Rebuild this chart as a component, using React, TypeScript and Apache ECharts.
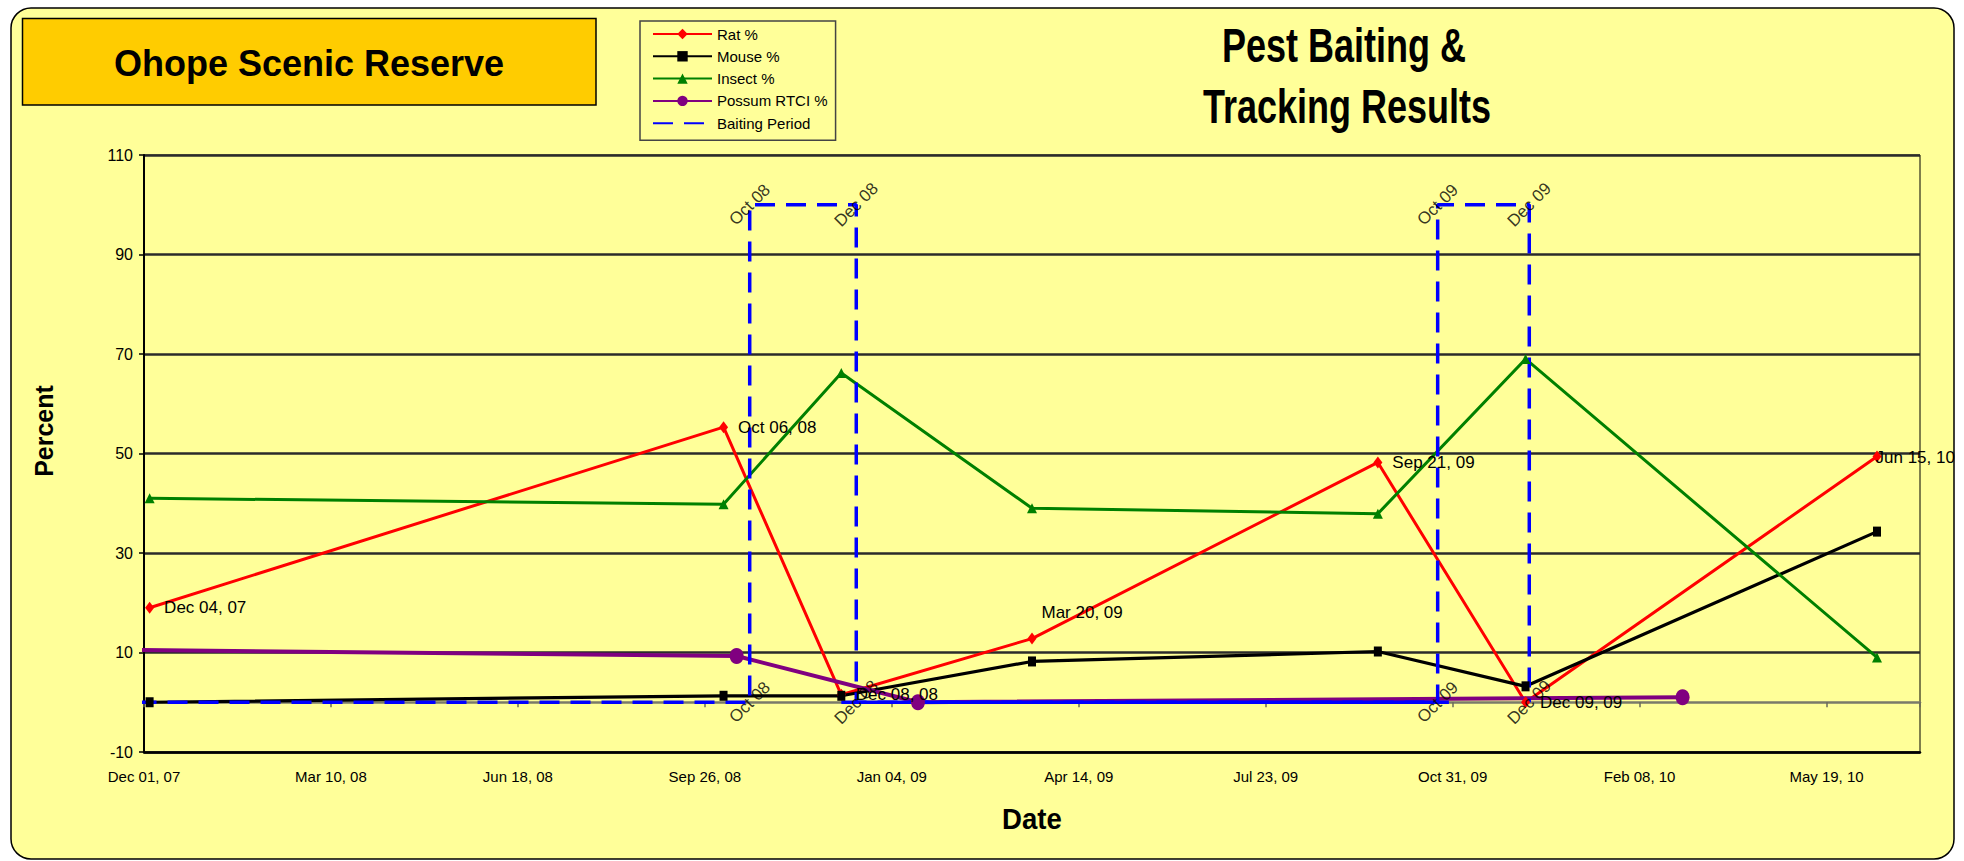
import React, { useEffect, useRef } from 'react';
import * as echarts from 'echarts';

// ---------- data ----------
const AXIS_START = '2007-12-01';
const AXIS_SPAN_DAYS = 950;
const X_TICK_DAYS = 100;
const Y_MIN = -10;
const Y_MAX = 110;
const Y_STEP = 20;

const sampleDates = ['2007-12-04', '2008-10-06', '2008-12-08', '2009-03-20', '2009-09-21', '2009-12-09', '2010-06-15'];
const ratPct = [19, 55.3, 1.5, 12.8, 48.2, 0, 49.4];
const mousePct = [0, 1.3, 1.3, 8.2, 10.2, 3.2, 34.3];
const insectPct = [41, 39.8, 66.2, 39, 37.9, 69, 9];

const possumDates = ['2007-11-27', '2008-10-13', '2009-01-18', '2010-03-03'];
const possumRtci = [10.5, 9.3, 0, 1];

const baitDates = ['2007-11-27', '2008-10-20', '2008-10-20', '2008-12-16', '2008-12-16', '2009-10-23', '2009-10-23', '2009-12-11', '2009-12-11'];
const baitLevel = [0, 0, 100, 100, 0, 0, 100, 100, 0];

const baitBaseDates = ['2008-12-08', '2009-10-29'];
const baitBaseLevel = [0, 0];

const legendNames = ['Rat %', 'Mouse %', 'Insect %', 'Possum RTCI %', 'Baiting Period'];

// ---------- helpers ----------
const MONTHS = ['Jan', 'Feb', 'Mar', 'Apr', 'May', 'Jun', 'Jul', 'Aug', 'Sep', 'Oct', 'Nov', 'Dec'];
const DAY_MS = 86400000;
const startMs = Date.parse(AXIS_START + 'T00:00:00Z');
const toDay = (s: string) => Math.round((Date.parse(s + 'T00:00:00Z') - startMs) / DAY_MS);
const pad = (n: number) => (n < 10 ? '0' + n : '' + n);
const dayToDate = (d: number) => new Date(startMs + d * DAY_MS);
const fmtFull = (dt: Date) => `${MONTHS[dt.getUTCMonth()]} ${pad(dt.getUTCDate())}, ${pad(dt.getUTCFullYear() % 100)}`;
const fmtMonth = (dt: Date) => `${MONTHS[dt.getUTCMonth()]} ${pad(dt.getUTCFullYear() % 100)}`;
const parseDate = (s: string) => new Date(Date.parse(s + 'T00:00:00Z'));

const FONT = '"Liberation Sans", Arial, Helvetica, sans-serif';

function titleText(text: string, x: number, y: number, size: number, extra: any = {}) {
  return {
    type: 'text',
    z: 11,
    silent: true,
    x,
    y,
    ...extra,
    style: {
      text,
      fill: '#000',
      fontSize: size,
      fontWeight: 'bold',
      fontFamily: FONT,
      align: 'center',
      verticalAlign: 'middle',
      textAlign: 'center',
      textVerticalAlign: 'middle',
    },
  };
}

function buildOption(): any {
  const ratOffsets = (i: number) => (i === 3 ? [-5, -26] : i === 6 ? [-16, 1] : [0, 0]);

  const xBase = {
    type: 'value',
    min: 0,
    max: AXIS_SPAN_DAYS,
    interval: X_TICK_DAYS,
  };

  return {
    animation: false,
    backgroundColor: '#FFFFFF',
    textStyle: { fontFamily: FONT },
    grid: {
      left: 144,
      right: 44,
      top: 155,
      bottom: 109,
      show: true,
      borderColor: '#000',
      borderWidth: 1,
      backgroundColor: 'transparent',
      containLabel: false,
      outerBoundsMode: 'none',
    },
    legend: {
      orient: 'vertical',
      left: 640,
      top: 21,
      padding: [5, 8, 9, 12],
      itemWidth: 59,
      itemHeight: 13,
      itemGap: 6.3,
      backgroundColor: '#FFFF99',
      borderColor: '#444',
      borderWidth: 1.5,
      selectedMode: false,
      textStyle: { fontSize: 15, color: '#000', fontFamily: FONT, lineHeight: 16 },
      data: legendNames.map((n) => (n === 'Baiting Period' ? { name: n, itemStyle: { opacity: 0 } } : n)),
    },
    xAxis: [
      {
        ...xBase,
        position: 'bottom',
        axisLine: { show: true, onZero: false, lineStyle: { color: '#000', width: 2.5 } },
        axisTick: { show: false },
        splitLine: { show: false },
        axisLabel: {
          show: true,
          fontSize: 15,
          color: '#000',
          fontFamily: FONT,
          margin: 17,
          showMaxLabel: false,
          formatter: (v: number) => (v % X_TICK_DAYS === 0 ? fmtFull(dayToDate(v)) : ''),
        },
      },
      {
        ...xBase,
        position: 'bottom',
        axisLine: { show: true, onZero: true, lineStyle: { color: '#7a7a6a', width: 2.5 } },
        axisTick: { show: true, inside: false, length: 5, lineStyle: { color: '#6a6a5a', width: 1.5 } },
        axisLabel: { show: false },
        splitLine: { show: false },
      },
    ],
    yAxis: {
      type: 'value',
      min: Y_MIN,
      max: Y_MAX,
      interval: Y_STEP,
      axisLine: { show: true, onZero: false, lineStyle: { color: '#000', width: 2 } },
      axisTick: { show: true, length: 5, lineStyle: { color: '#000', width: 1.5 } },
      axisLabel: { fontSize: 16, color: '#000', margin: 11, fontFamily: FONT },
      splitLine: { show: true, lineStyle: { color: '#2b2b2b', width: 2.5 } },
    },
    graphic: [
      {
        type: 'rect',
        z: -10,
        silent: true,
        shape: { x: 11, y: 8, width: 1943, height: 851, r: 20 },
        style: { fill: '#FFFF99', stroke: '#000', lineWidth: 1.5 },
      },
      {
        type: 'rect',
        z: 10,
        silent: true,
        shape: { x: 22.5, y: 18.5, width: 573.5, height: 86.5 },
        style: { fill: '#FFCC00', stroke: '#000', lineWidth: 1.5 },
      },
      titleText('Ohope Scenic Reserve', 309, 63, 36),
      titleText('Pest Baiting &', 1344, 46, 48, { scaleX: 0.75 }),
      titleText('Tracking Results', 1347, 107, 48, { scaleX: 0.75 }),
      titleText('Percent', 44, 431, 25, { rotation: Math.PI / 2 }),
      titleText('Date', 1032, 819, 30, { scaleX: 0.92 }),
    ],
    series: [
      {
        name: 'Rat %',
        type: 'line',
        xAxisIndex: 0,
        symbol: 'diamond',
        symbolSize: [9, 12],
        lineStyle: { color: '#FF0000', width: 3 },
        itemStyle: { color: '#FF0000', borderWidth: 0 },
        emphasis: { disabled: true },
        label: {
          show: true,
          position: 'right',
          distance: 10,
          formatter: '{b}',
          fontSize: 17,
          color: '#000',
          fontFamily: FONT,
        },
        data: sampleDates.map((d, i) => ({
          name: fmtFull(parseDate(d)),
          value: [toDay(d), ratPct[i]],
          label: { offset: ratOffsets(i) },
        })),
      },
      {
        name: 'Mouse %',
        type: 'line',
        xAxisIndex: 0,
        symbol: 'rect',
        symbolSize: [8, 10],
        lineStyle: { color: '#000000', width: 3.2 },
        itemStyle: { color: '#000000', borderWidth: 0 },
        emphasis: { disabled: true },
        data: sampleDates.map((d, i) => [toDay(d), mousePct[i]]),
      },
      {
        name: 'Insect %',
        type: 'line',
        xAxisIndex: 0,
        symbol: 'triangle',
        symbolSize: [10, 10],
        lineStyle: { color: '#008000', width: 3 },
        itemStyle: { color: '#008000', borderWidth: 0 },
        emphasis: { disabled: true },
        data: sampleDates.map((d, i) => [toDay(d), insectPct[i]]),
      },
      {
        name: 'Possum RTCI %',
        type: 'line',
        xAxisIndex: 0,
        symbol: 'circle',
        symbolSize: [14, 16],
        clip: true,
        lineStyle: { color: '#800080', width: 4 },
        itemStyle: { color: '#800080', borderWidth: 0 },
        emphasis: { disabled: true },
        data: possumDates.map((d, i) => [toDay(d), possumRtci[i]]),
      },
      {
        name: 'Baiting Period',
        type: 'line',
        xAxisIndex: 0,
        symbol: 'none',
        clip: true,
        lineStyle: { color: '#0000FF', width: 3.5, type: [20, 11] },
        itemStyle: { color: '#0000FF' },
        emphasis: { disabled: true },
        data: baitDates.map((d, i) => [toDay(d), baitLevel[i]]),
      },
      {
        name: 'baitBase',
        type: 'line',
        xAxisIndex: 0,
        symbol: 'none',
        lineStyle: { color: '#0000FF', width: 3.5 },
        itemStyle: { color: '#0000FF' },
        emphasis: { disabled: true },
        data: baitBaseDates.map((d, i) => [toDay(d), baitBaseLevel[i]]),
      },
      {
        name: 'baitLabels',
        type: 'scatter',
        xAxisIndex: 0,
        symbol: 'circle',
        symbolSize: 0,
        silent: true,
        z: 5,
        itemStyle: { color: 'rgba(0,0,0,0)' },
        emphasis: { disabled: true },
        label: {
          show: true,
          position: 'inside',
          rotate: 45,
          formatter: '{b}',
          fontSize: 17,
          color: '#000',
          fontFamily: FONT,
        },
        data: baitDates
          .map((d, i) => ({ name: fmtMonth(parseDate(d)), value: [toDay(d), baitLevel[i]] }))
          .slice(1),
      },
    ],
  };
}

export default function App() {
  const ref = useRef<HTMLDivElement>(null);
  useEffect(() => {
    if (!ref.current) return;
    const chart = echarts.init(ref.current, null, { renderer: 'svg', width: 1964, height: 861 });
    chart.setOption(buildOption());
    return () => {
      chart.dispose();
    };
  }, []);
  return (
    <div
      ref={ref}
      style={{ position: 'fixed', left: 0, top: 0, width: '1964px', height: '861px' }}
    />
  );
}
